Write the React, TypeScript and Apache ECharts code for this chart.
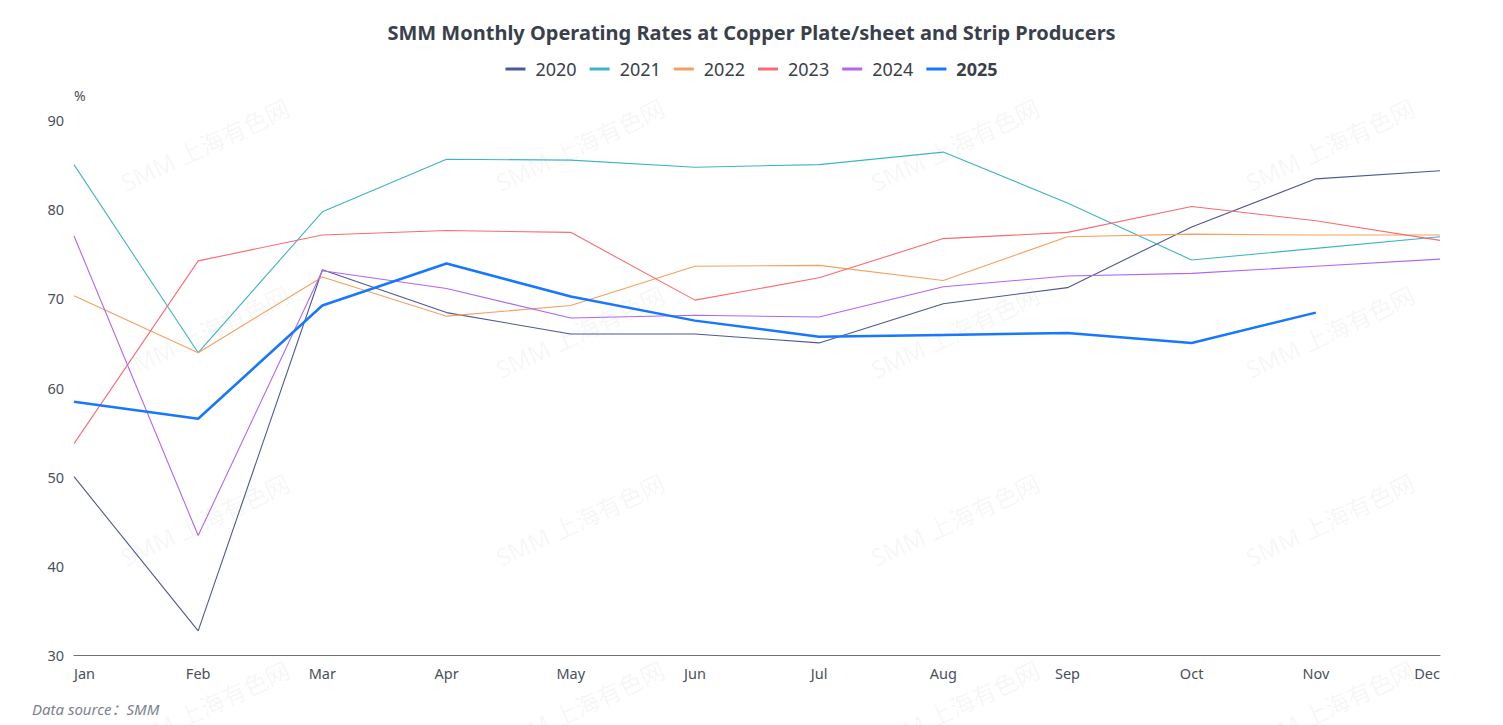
import React, { useEffect, useRef } from "react";
import * as echarts from "echarts";

const months = ["Jan", "Feb", "Mar", "Apr", "May", "Jun", "Jul", "Aug", "Sep", "Oct", "Nov", "Dec"];
const years = ["2020", "2021", "2022", "2023", "2024", "2025"];
const colors = ["#4e5797", "#3db5c6", "#f4a15e", "#f86b75", "#b066f5", "#1677ff"];

const v2020 = [50.0, 32.7, 73.2, 68.4, 66.0, 66.0, 65.0, 69.4, 71.2, 78.0, 83.4, 84.3];
const v2021 = [85.0, 63.9, 79.7, 85.6, 85.5, 84.7, 85.0, 86.4, 80.7, 74.3, 75.6, 76.9];
const v2022 = [70.3, 63.9, 72.4, 68.0, 69.2, 73.6, 73.7, 72.0, 76.9, 77.2, 77.1, 77.1];
const v2023 = [53.7, 74.2, 77.1, 77.6, 77.4, 69.8, 72.3, 76.7, 77.4, 80.3, 78.7, 76.5];
const v2024 = [77.0, 43.4, 73.1, 71.1, 67.8, 68.1, 67.9, 71.3, 72.5, 72.8, 73.6, 74.4];
const v2025: (number | null)[] = [58.4, 56.5, 69.2, 73.9, 70.2, 67.5, 65.7, 65.9, 66.1, 65.0, 68.4, null];

const seriesValues = [v2020, v2021, v2022, v2023, v2024, v2025];

const yTicks = { min: 30, max: 90, interval: 10 };

const FONT = "'Noto Sans', 'Noto Sans CJK SC', sans-serif";

function watermarks() {
  const items: any[] = [];
  const cols = [205, 580, 955, 1330];
  const rows = [145, 332, 520, 707];
  for (const x of cols) {
    for (const y of rows) {
      items.push({
        type: "text",
        x,
        y,
        rotation: (25 * Math.PI) / 180,
        silent: true,
        z: -10,
        style: {
          text: "SMM 上海有色网",
          fill: "rgba(0,0,0,0.055)",
          font: `24px ${FONT}`,
          align: "center",
          verticalAlign: "middle",
        },
      });
    }
  }
  return items;
}

export default function App() {
  const ref = useRef<HTMLDivElement>(null);
  useEffect(() => {
    if (!ref.current) return;
    const chart = echarts.init(ref.current, null, { renderer: "svg" });
    chart.setOption({
      animation: false,
      backgroundColor: "#ffffff",
      textStyle: { fontFamily: FONT },
      title: {
        text: "SMM Monthly Operating Rates at Copper Plate/sheet and Strip Producers",
        left: "center",
        top: 17,
        textStyle: { fontSize: 20, fontWeight: "bold", color: "#3a3f4c", fontFamily: FONT },
      },
      legend: {
        top: 55,
        left: "center",
        icon: "rect",
        itemWidth: 20,
        itemHeight: 3,
        itemGap: 13,
        textStyle: { fontSize: 18, color: "#3a3f4c", fontFamily: FONT, padding: [0, 0, 0, 5] },
        data: years.map((y) =>
          y === "2025" ? { name: y, textStyle: { fontWeight: "bold" } } : { name: y }
        ),
      },
      grid: { left: 74, right: 63, top: 120, bottom: 70, containLabel: false },
      xAxis: {
        type: "category",
        data: months,
        boundaryGap: false,
        axisLine: { show: true, lineStyle: { color: "#6e7079" } },
        axisTick: { show: false },
        axisLabel: {
          fontSize: 14.5,
          color: "#4a4f5c",
          margin: 11,
          alignMinLabel: "left",
          alignMaxLabel: "right",
        },
        splitLine: { show: false },
      },
      yAxis: {
        type: "value",
        min: yTicks.min,
        max: yTicks.max,
        interval: yTicks.interval,
        name: "%",
        nameLocation: "end",
        nameGap: 18,
        nameTextStyle: { fontSize: 14, color: "#4a4f5c", align: "left" },
        axisLine: { show: false },
        axisTick: { show: false },
        axisLabel: { fontSize: 14.5, color: "#4a4f5c", margin: 10 },
        splitLine: { show: false },
      },
      graphic: [
        ...watermarks(),
        {
          type: "text",
          left: 32,
          top: 701,
          style: {
            text: "Data source：SMM",
            fill: "#7d828e",
            font: `italic 15px ${FONT}`,
          },
        },
      ],
      series: years.map((y, i) => ({
        name: y,
        type: "line",
        data: seriesValues[i],
        symbol: "none",
        color: colors[i],
        lineStyle: { width: y === "2025" ? 2.5 : 1.1, color: colors[i] },
        z: y === "2025" ? 10 : 2,
      })),
    });
    return () => chart.dispose();
  }, []);
  return (
    <div
      ref={ref}
      style={{ position: "absolute", left: 0, top: 0, width: 1503, height: 725 }}
    />
  );
}
